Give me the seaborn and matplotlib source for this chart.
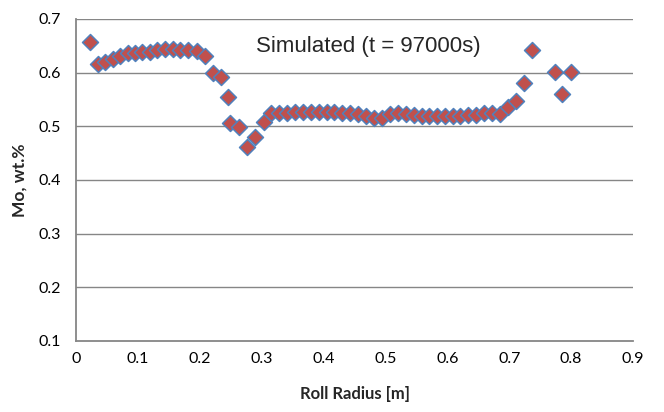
import matplotlib
matplotlib.use("Agg")
import matplotlib.pyplot as plt
import seaborn as sns
import pandas as pd

radius = [0.023, 0.035, 0.047, 0.059, 0.071, 0.084, 0.095, 0.107, 0.119, 0.131,
          0.143, 0.156, 0.168, 0.181, 0.195, 0.208, 0.221, 0.235, 0.245, 0.249,
          0.263, 0.276, 0.290, 0.303, 0.315, 0.328, 0.341, 0.354, 0.367, 0.379,
          0.392, 0.405, 0.417, 0.430, 0.443, 0.456, 0.469, 0.482, 0.494, 0.507,
          0.520, 0.533, 0.546, 0.559, 0.571, 0.584, 0.596, 0.609, 0.621, 0.634,
          0.646, 0.660, 0.672, 0.685, 0.698, 0.711, 0.724, 0.736, 0.774, 0.786,
          0.800]
mo = [0.658, 0.616, 0.620, 0.625, 0.631, 0.636, 0.637, 0.638, 0.639, 0.642,
      0.645, 0.644, 0.642, 0.642, 0.641, 0.631, 0.600, 0.591, 0.555, 0.507,
      0.499, 0.462, 0.480, 0.508, 0.524, 0.525, 0.525, 0.526, 0.526, 0.526,
      0.526, 0.526, 0.526, 0.525, 0.524, 0.523, 0.519, 0.515, 0.515, 0.523,
      0.525, 0.523, 0.521, 0.520, 0.520, 0.520, 0.520, 0.520, 0.520, 0.521,
      0.522, 0.525, 0.525, 0.523, 0.536, 0.548, 0.580, 0.642, 0.601, 0.560,
      0.602]

x_ticks = [0, 0.1, 0.2, 0.3, 0.4, 0.5, 0.6, 0.7, 0.8, 0.9]
x_tick_labels = ["0", "0.1", "0.2", "0.3", "0.4", "0.5", "0.6", "0.7", "0.8", "0.9"]
y_ticks = [0.1, 0.2, 0.3, 0.4, 0.5, 0.6, 0.7]
y_tick_labels = ["0.1", "0.2", "0.3", "0.4", "0.5", "0.6", "0.7"]

df = pd.DataFrame({"Roll Radius [m]": radius, "Mo, wt.%": mo})

sns.set_style("white")
plt.rcParams["font.family"] = ["Lato", "DejaVu Sans"]

fig = plt.figure(figsize=(6.64, 4.12), dpi=100)
ax = fig.add_axes([76 / 664, 1 - 341 / 412, (633 - 76) / 664, (341 - 19) / 412])

grid_color = "#868686"
for yt in y_ticks[1:]:
    ax.axhline(yt, color=grid_color, lw=1.0, zorder=0)

sns.scatterplot(data=df, x="Roll Radius [m]", y="Mo, wt.%", ax=ax, marker="D",
                s=66, color="#C0504D", edgecolor="#4F81BD", linewidth=1.1,
                zorder=3, clip_on=False)

ax.set_xlim(0, 0.9)
ax.set_ylim(0.1, 0.7)
ax.set_xticks(x_ticks)
ax.set_xticklabels(x_tick_labels)
ax.set_yticks(y_ticks)
ax.set_yticklabels(y_tick_labels)
ax.tick_params(axis="both", length=0, labelsize=11.5, colors="black")
ax.tick_params(axis="x", pad=8)
ax.tick_params(axis="y", pad=11)

for side in ["top", "right"]:
    ax.spines[side].set_visible(False)
for side in ["left", "bottom"]:
    ax.spines[side].set_color(grid_color)
    ax.spines[side].set_linewidth(1.3)

ax.set_xlabel("Roll Radius [m]", fontsize=12, fontweight="bold", labelpad=14)
ax.set_ylabel("Mo, wt.%", fontsize=12.5, fontweight="bold", labelpad=8)

ax.text(0.525, 0.916, "Simulated (t = 97000s)", transform=ax.transAxes,
        ha="center", va="center", fontsize=16, family=["Liberation Sans", "DejaVu Sans"])

fig.savefig("out.png", dpi=100)
